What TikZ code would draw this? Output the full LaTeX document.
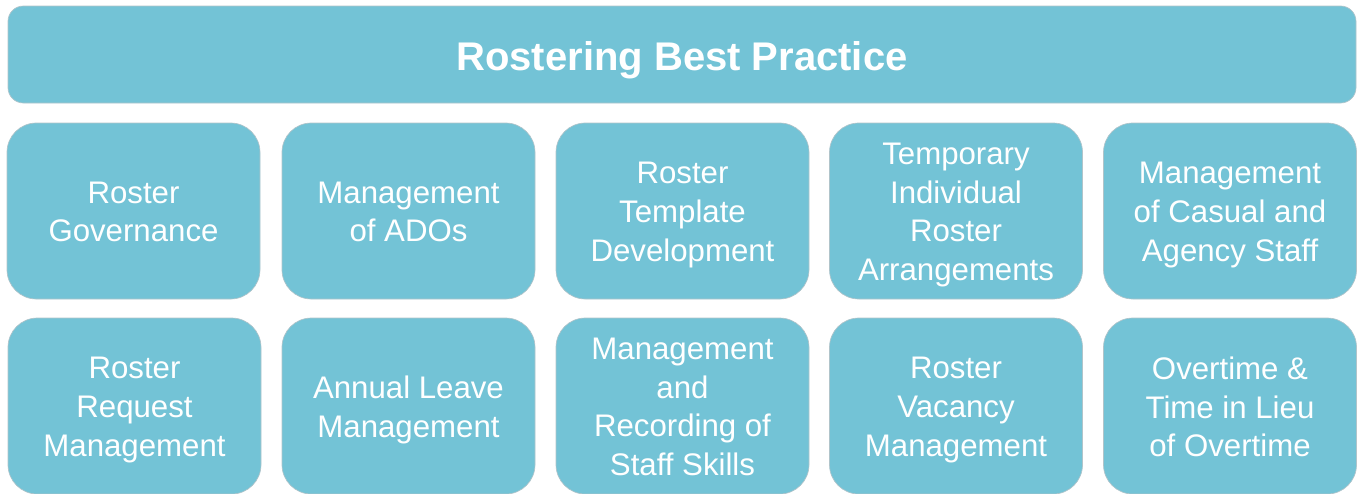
\documentclass[tikz,border=0pt]{standalone}
\usepackage{fontspec}
\setmainfont{Liberation Sans}
\definecolor{tile}{RGB}{115,195,214}
\definecolor{tileedge}{RGB}{176,196,202}
\begin{document}
\begin{tikzpicture}[x=0.75pt,y=-0.75pt,
  tilebase/.style={fill=tile,draw=tileedge,line width=0.5pt,inner sep=0pt},
  words/.style={text=white,align=center,inner sep=0pt,
    execute at end node=\vphantom{g}},
  headbox/.style={tilebase,rounded corners=11.5pt,minimum width=1348*0.75pt,
    minimum height=97*0.75pt},
  headtext/.style={words,yshift=-4.5pt,font=\fontsize{30}{36}\selectfont\bfseries},
  topicbox/.style={tilebase,rounded corners=22pt,minimum width=253*0.75pt,
    minimum height=176*0.75pt,
    label={[topictext]center:{#1}}},
  topictext/.style={words,yshift=-3pt,font=\fontsize{23.4}{28.9}\selectfont}]
\useasboundingbox (0,0) rectangle (1357,493);

% title bar
\node[headbox,label={[headtext]center:Rostering Best Practice}] (head) at (682,54.5) {};

% first row of topics
\node[topicbox={Roster\\Governance}] (governance) at (133.5,211) {};
\node[topicbox={Management\\of ADOs}] (ados) at (408.5,211) {};
\node[topicbox={Roster\\Template\\Development}] (template) at (682.5,211) {};
\node[topicbox={Temporary\\Individual\\Roster\\Arrangements}] (temporary) at (956,211) {};
\node[topicbox={Management\\of Casual and\\Agency Staff}] (casual) at (1230,211) {};

% second row of topics
\node[topicbox={Roster\\Request\\Management}] (request) at (134.5,406) {};
\node[topicbox={Annual Leave\\Management}] (leave) at (408.5,406) {};
\node[topicbox={Management\\and\\Recording of\\Staff Skills}] (skills) at (682.5,406) {};
\node[topicbox={Roster\\Vacancy\\Management}] (vacancy) at (956,406) {};
\node[topicbox={Overtime \&\\Time in Lieu\\of Overtime}] (overtime) at (1230,406) {};
\end{tikzpicture}
\end{document}
